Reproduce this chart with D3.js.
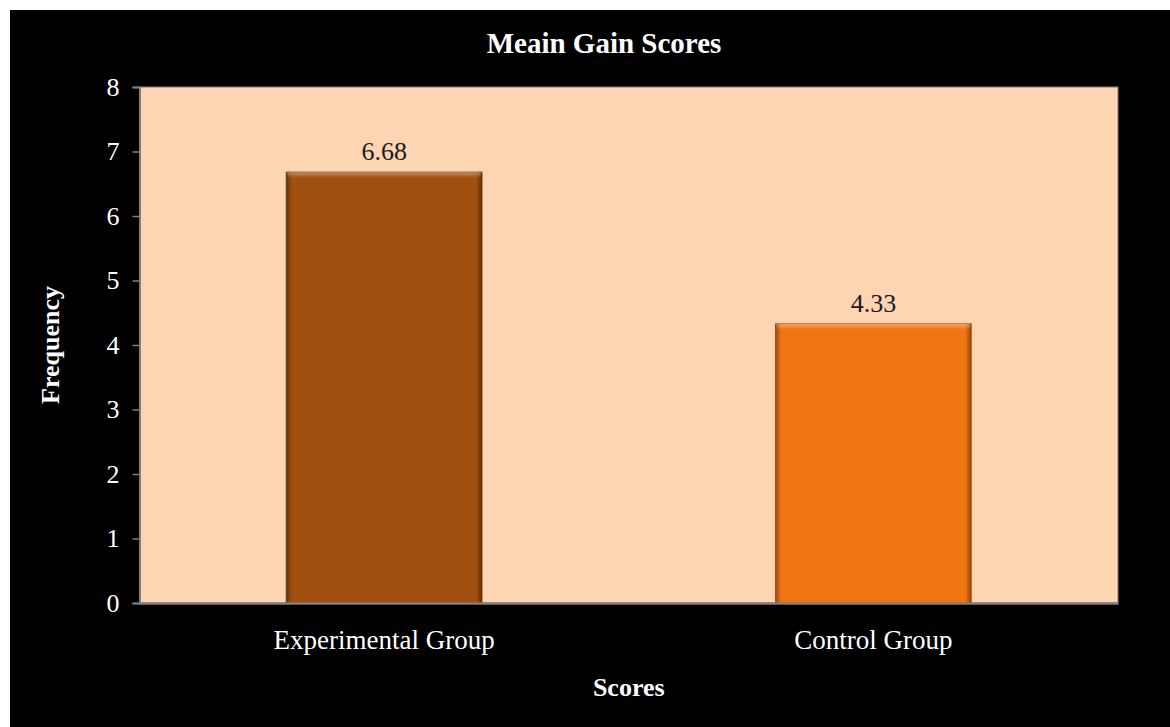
<!DOCTYPE html>
<html>
<head>
<meta charset="utf-8">
<script src="https://cdn.jsdelivr.net/npm/d3@7"></script>
<style>
  body { margin: 0; background: #fff; }
  svg { display: block; }
</style>
</head>
<body>
<svg id="viz"></svg>
<script>
// Mean gain scores chart
const categories = ["Experimental Group", "Control Group"];
const values = [6.68, 4.33];
const barColors = ["#A14F0E", "#F07514"];
const yTicks = [0, 1, 2, 3, 4, 5, 6, 7, 8];

const width = 1170, height = 727;
const margin = { left: 139.5, right: 52, top: 87, bottom: 124 };
const fontFamily = "'Liberation Serif', 'Times New Roman', serif";

const svg = d3.select("#viz")
  .attr("width", width)
  .attr("height", height);

const defs = svg.append("defs");

// black chart frame
svg.append("rect")
  .attr("x", 10).attr("y", 10)
  .attr("width", width - 10).attr("height", height - 10)
  .attr("fill", "#000");

const chartWidth = width - margin.left - margin.right;
const chartHeight = height - margin.top - margin.bottom;

const g = svg.append("g")
  .attr("transform", `translate(${margin.left}, ${margin.top})`);

const x = d3.scaleBand()
  .domain(categories)
  .range([0, chartWidth])
  .paddingInner(0.6)
  .paddingOuter(0.3);

const y = d3.scaleLinear()
  .domain([0, 8])
  .range([chartHeight, 0]);

// plot area
g.append("rect")
  .attr("width", chartWidth)
  .attr("height", chartHeight)
  .attr("fill", "#FDD5B2")
  .attr("stroke", "#8c7b6c")
  .attr("stroke-width", 1);

// bevel gradients
const sideGrad = defs.append("linearGradient").attr("id", "side").attr("x1", 0).attr("x2", 1);
sideGrad.append("stop").attr("offset", "0%").attr("stop-color", "#000").attr("stop-opacity", 0.35);
sideGrad.append("stop").attr("offset", "3%").attr("stop-color", "#000").attr("stop-opacity", 0);
sideGrad.append("stop").attr("offset", "97%").attr("stop-color", "#000").attr("stop-opacity", 0);
sideGrad.append("stop").attr("offset", "100%").attr("stop-color", "#000").attr("stop-opacity", 0.4);

const topGrad = defs.append("linearGradient").attr("id", "top").attr("x1", 0).attr("x2", 0).attr("y1", 0).attr("y2", 1);
topGrad.append("stop").attr("offset", "0%").attr("stop-color", "#fff").attr("stop-opacity", 0.35);
topGrad.append("stop").attr("offset", "100%").attr("stop-color", "#fff").attr("stop-opacity", 0);

const bars = g.selectAll(".bar")
  .data(categories.map((c, i) => ({ c, v: values[i], color: barColors[i] })))
  .enter().append("g")
  .attr("class", "bar");

bars.append("rect")
  .attr("x", d => x(d.c))
  .attr("y", d => y(d.v))
  .attr("width", x.bandwidth())
  .attr("height", d => y(0) - y(d.v))
  .attr("fill", d => d.color)
  .attr("stroke", d => d3.color(d.color).darker(0.6))
  .attr("stroke-width", 1);

bars.append("rect")
  .attr("x", d => x(d.c))
  .attr("y", d => y(d.v))
  .attr("width", x.bandwidth())
  .attr("height", d => y(0) - y(d.v))
  .attr("fill", "url(#side)");

bars.append("rect")
  .attr("x", d => x(d.c) + 1)
  .attr("y", d => y(d.v))
  .attr("width", x.bandwidth() - 2)
  .attr("height", 6)
  .attr("fill", "url(#top)");

// value labels
bars.append("text")
  .attr("x", d => x(d.c) + x.bandwidth() / 2)
  .attr("y", d => y(d.v) - 12)
  .attr("text-anchor", "middle")
  .attr("fill", "#1a1a1a")
  .style("font-family", fontFamily)
  .style("font-size", "26px")
  .text(d => d.v.toFixed(2));

// y axis
const yAxis = g.append("g")
  .call(d3.axisLeft(y).tickValues(yTicks).tickSize(7).tickPadding(13));
yAxis.select(".domain").attr("stroke", "#808080").attr("stroke-width", 2);
yAxis.selectAll(".tick line").attr("stroke", "#808080").attr("stroke-width", 1.5);
yAxis.selectAll("text")
  .attr("fill", "#fff")
  .style("font-family", fontFamily)
  .style("font-size", "26px");

// x axis
const xAxis = g.append("g")
  .attr("transform", `translate(0, ${chartHeight})`)
  .call(d3.axisBottom(x).tickSize(0).tickPadding(27));
xAxis.select(".domain").attr("stroke", "#808080").attr("stroke-width", 2.5);
xAxis.selectAll("text")
  .attr("fill", "#fff")
  .style("font-family", fontFamily)
  .style("font-size", "27px");

// titles
svg.append("text")
  .attr("x", 604).attr("y", 53)
  .attr("text-anchor", "middle")
  .attr("fill", "#fff")
  .style("font-family", fontFamily)
  .style("font-weight", "bold")
  .style("font-size", "29px")
  .text("Meain Gain Scores");

svg.append("text")
  .attr("x", margin.left + chartWidth / 2).attr("y", 696)
  .attr("text-anchor", "middle")
  .attr("fill", "#fff")
  .style("font-family", fontFamily)
  .style("font-weight", "bold")
  .style("font-size", "26px")
  .text("Scores");

svg.append("text")
  .attr("transform", `translate(59, ${margin.top + chartHeight / 2}) rotate(-90)`)
  .attr("text-anchor", "middle")
  .attr("fill", "#fff")
  .style("font-family", fontFamily)
  .style("font-weight", "bold")
  .style("font-size", "26px")
  .text("Frequency");
</script>
</body>
</html>
